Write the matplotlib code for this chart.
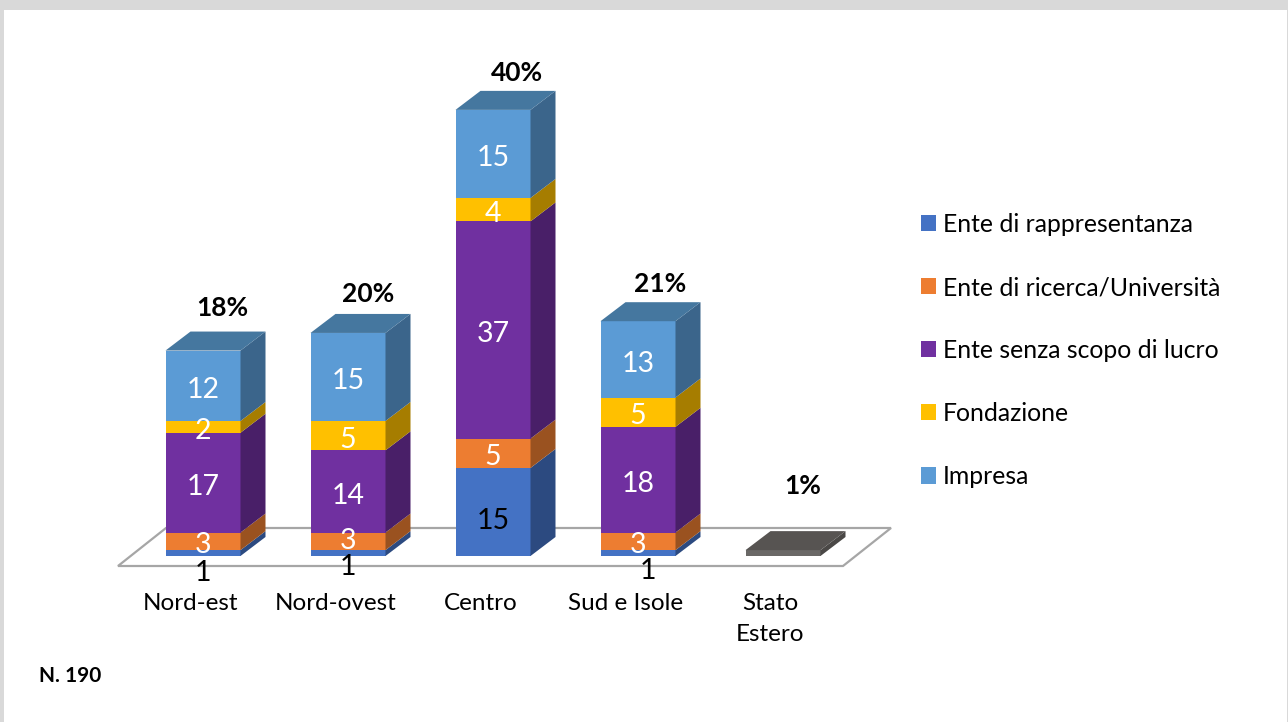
import matplotlib
matplotlib.use("Agg")
import matplotlib.pyplot as plt
from matplotlib.patches import Patch, Rectangle
import numpy as np

plt.rcParams['font.family'] = ['Lato', 'DejaVu Sans']

categories = ["Nord-est", "Nord-ovest", "Centro", "Sud e Isole", "Stato\nEstero"]
rappresentanza = [1, 1, 15, 1, 0]
ricerca = [3, 3, 5, 3, 0]
senza_lucro = [17, 14, 37, 18, 0]
fondazione = [2, 5, 4, 5, 0]
impresa = [12, 15, 15, 13, 0]
altro = [0, 0, 0, 0, 1]
percent = ["18%", "20%", "40%", "21%", "1%"]

names = ["Ente di rappresentanza", "Ente di ricerca/Università", "Ente senza scopo di lucro", "Fondazione", "Impresa"]
series = [rappresentanza, ricerca, senza_lucro, fondazione, impresa, altro]
colors = ["#4472C4", "#ED7D31", "#7030A0", "#FFC000", "#5B9BD5", "#6A6866"]
side_colors = ["#2C4A80", "#9A5220", "#491F68", "#A67D00", "#3B658B", "#4A4846"]
top_colors = ["#345A9A", "#B86028", "#57257C", "#C69500", "#45779F", "#575452"]

W, H = 1288, 722
PX_X = 145.0    # pixels per category
PX_Y = 5.87     # pixels per unit
X0, Y0 = 203.0, 556.0
AX_BOTTOM = 580
dx = 25 / PX_X
dy = 19 / PX_Y
bar_w = 75 / PX_X

fig = plt.figure(figsize=(W / 100, H / 100), dpi=100, facecolor="#D9D9D9")
fig.patches.append(Rectangle((4 / W, 0), (W - 5) / W, (H - 10) / H, transform=fig.transFigure, fc="white", ec="none", zorder=-1))

ax = fig.add_axes([0, (H - AX_BOTTOM) / H, 1, AX_BOTTOM / H])
ax.patch.set_visible(False)
ax.set_xlim(-X0 / PX_X, (W - X0) / PX_X)
ax.set_ylim((Y0 - AX_BOTTOM) / PX_Y, Y0 / PX_Y)
for s in ax.spines.values():
    s.set_visible(False)
ax.set_yticks([])

# floor
fx0, fx1 = (118 - X0) / PX_X, (843 - X0) / PX_X
fy0, fy1 = -10 / PX_Y, 28 / PX_Y
fshift = 48 / PX_X
ax.fill([fx0, fx1, fx1 + fshift, fx0 + fshift], [fy0, fy0, fy1, fy1], fc="white", ec="#A6A6A6", lw=1.6, zorder=0)

x = np.arange(len(categories))
bottoms = np.zeros(len(categories))
for k, vals in enumerate(series):
    vals = np.array(vals, dtype=float)
    for i in x:
        if vals[i] == 0:
            continue
        b = bottoms[i]
        t = b + vals[i]
        r = i + bar_w / 2
        ax.bar(i, vals[i], bar_w, bottom=b, color=colors[k])
        ax.fill([r, r + dx, r + dx, r], [b, b + dy, t + dy, t], fc=side_colors[k], ec="none")
        # only the last segment shows its top
        if t == sum(s[i] for s in series):
            l = i - bar_w / 2
            ax.fill([l, r, r + dx, l + dx], [t, t, t + dy, t + dy], fc=top_colors[k], ec="none")
    bottoms += vals

# value labels, a couple sit off centre in the original
nudge = {(0, 2): -6.5, (1, 1): 0}
bottoms = np.zeros(len(categories))
for k, vals in enumerate(series[:5]):
    for i in x:
        if vals[i] == 0:
            continue
        yc = bottoms[i] + vals[i] / 2
        if vals[i] == 1:
            ax.annotate(str(vals[i]), (i, 0), xytext=([0, 0, 0, 7][i], [-12, -8, 0, -11][i]), textcoords="offset points",
                        ha="center", va="center", fontsize=20.5, color="black", annotation_clip=False)
        else:
            col = "black" if (k == 0) else "white"
            ax.annotate(str(vals[i]), (i, yc), xytext=(0, nudge.get((k, int(i)), -3)), textcoords="offset points",
                        ha="center", va="center", fontsize=20.5, color=col)
    bottoms += np.array(vals)

# percent labels above the bars
totals = bottoms + np.array(altro)
pct_off = [30.5, 28, 26.5, 27, 46]
pct_dx = [14, 14.5, 17, 16, 14]
for i in x:
    ax.annotate(percent[i], (i, totals[i]), xytext=(pct_dx[i], pct_off[i]), textcoords="offset points",
                ha="center", va="center", fontsize=19, fontweight="bold", color="black")

ax.set_xticks(x - 12.7 / PX_X)
ax.set_xticklabels(categories, fontsize=17.5, linespacing=1.6, va="top")
ax.tick_params(axis="x", length=0, pad=9)

handles = [Patch(fc=c, ec="none") for c in colors[:5]]
fig.legend(handles, names, loc="upper left", bbox_to_anchor=(920.5 / W, 1 - 213 / H), frameon=False, fontsize=17.8,
           handlelength=0.62, handleheight=0.62, handletextpad=0.27, labelspacing=1.62, borderpad=0, borderaxespad=0)

fig.text(39 / W, 1 - 676 / H, "N. 190", fontsize=15, fontweight="bold", va="center", ha="left")

fig.savefig("out.png", dpi=100, facecolor=fig.get_facecolor())
